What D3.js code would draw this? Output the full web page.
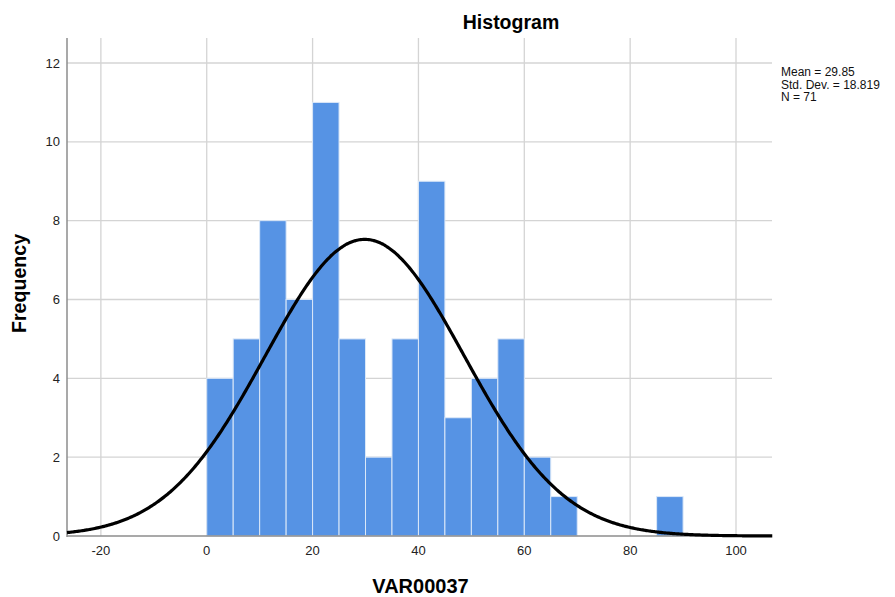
<!DOCTYPE html>
<html><head><meta charset="utf-8">
<script src="https://cdn.jsdelivr.net/npm/d3@7"></script>
<style>body{margin:0;background:#fff}svg{display:block}text{font-family:"Liberation Sans",Arial,sans-serif}</style>
</head><body><svg id="c" width="895" height="597"></svg>
<script>
const binStarts = [0,5,10,15,20,25,30,35,40,45,50,55,60,65,70,75,80,85];
const counts    = [4,5,8,6,11,5,2,5,9,3,4,5,2,1,0,0,0,1];
const binWidth = 5;
const xTicks = [-20,0,20,40,60,80,100];
const yTicks = [0,2,4,6,8,10,12];
const stats = {mean:29.85, sd:18.819, n:71};
const statLines = ["Mean = 29.85","Std. Dev. = 18.819","N = 71"];

const svg = d3.select("#c");
const L=67, R=772, T=38, B=536;
const x = d3.scaleLinear().domain([-26.4,106.8]).range([L,R]);
const y = d3.scaleLinear().domain([0,12]).range([B,63]);

// grid
svg.append("g").selectAll("line").data(yTicks.filter(d=>d>0)).join("line")
  .attr("x1",L).attr("x2",R).attr("y1",d=>y(d)).attr("y2",d=>y(d))
  .attr("stroke","#d4d4d4").attr("stroke-width",1.3);
svg.append("g").selectAll("line").data(xTicks).join("line")
  .attr("x1",d=>x(d)).attr("x2",d=>x(d)).attr("y1",T).attr("y2",B)
  .attr("stroke","#d4d4d4").attr("stroke-width",1.3);

// bars
svg.append("g").selectAll("rect").data(binStarts.map((s,i)=>({s,c:counts[i]})).filter(d=>d.c>0)).join("rect")
  .attr("x",d=>x(d.s)).attr("width",d=>x(d.s+binWidth)-x(d.s))
  .attr("y",d=>y(d.c)).attr("height",d=>y(0)-y(d.c))
  .attr("fill","#5693e4").attr("stroke","#dbe8f8").attr("stroke-width",1);

// axes lines
svg.append("line").attr("x1",L).attr("x2",L).attr("y1",T).attr("y2",B+1).attr("stroke","#8c8c8c").attr("stroke-width",1.5);
svg.append("line").attr("x1",L).attr("x2",R).attr("y1",B).attr("y2",B).attr("stroke","#8c8c8c").attr("stroke-width",1.5);

// normal curve
const k = stats.n*binWidth/(stats.sd*Math.sqrt(2*Math.PI));
const xs = d3.range(-26.4,106.9,0.25);
const line = d3.line().x(d=>x(d)).y(d=>y(k*Math.exp(-0.5*Math.pow((d-stats.mean)/stats.sd,2)))).curve(d3.curveBasis);
svg.append("path").datum(xs).attr("d",line).attr("fill","none").attr("stroke","#000").attr("stroke-width",3.2);

// tick labels
svg.append("g").selectAll("text").data(yTicks).join("text")
  .attr("x",L-7).attr("y",d=>y(d)+4.5).attr("text-anchor","end").attr("font-size",13).attr("fill","#222").text(d=>d);
svg.append("g").selectAll("text").data(xTicks).join("text")
  .attr("x",d=>x(d)).attr("y",555).attr("text-anchor","middle").attr("font-size",13).attr("fill","#222").text(d=>d);

// titles
svg.append("text").attr("x",511).attr("y",29).attr("text-anchor","middle").attr("font-size",19.5).attr("font-weight","bold").text("Histogram");
svg.append("text").attr("x",420.5).attr("y",593).attr("text-anchor","middle").attr("font-size",20).attr("font-weight","bold").text("VAR00037");
svg.append("text").attr("transform","translate(26,283.5) rotate(-90)").attr("text-anchor","middle").attr("font-size",19.6).attr("font-weight","bold").text("Frequency");

// stats
svg.append("g").selectAll("text").data(statLines).join("text")
  .attr("x",781).attr("y",(d,i)=>76+i*12.5).attr("font-size",12).attr("fill","#111").text(d=>d);
</script></body></html>
